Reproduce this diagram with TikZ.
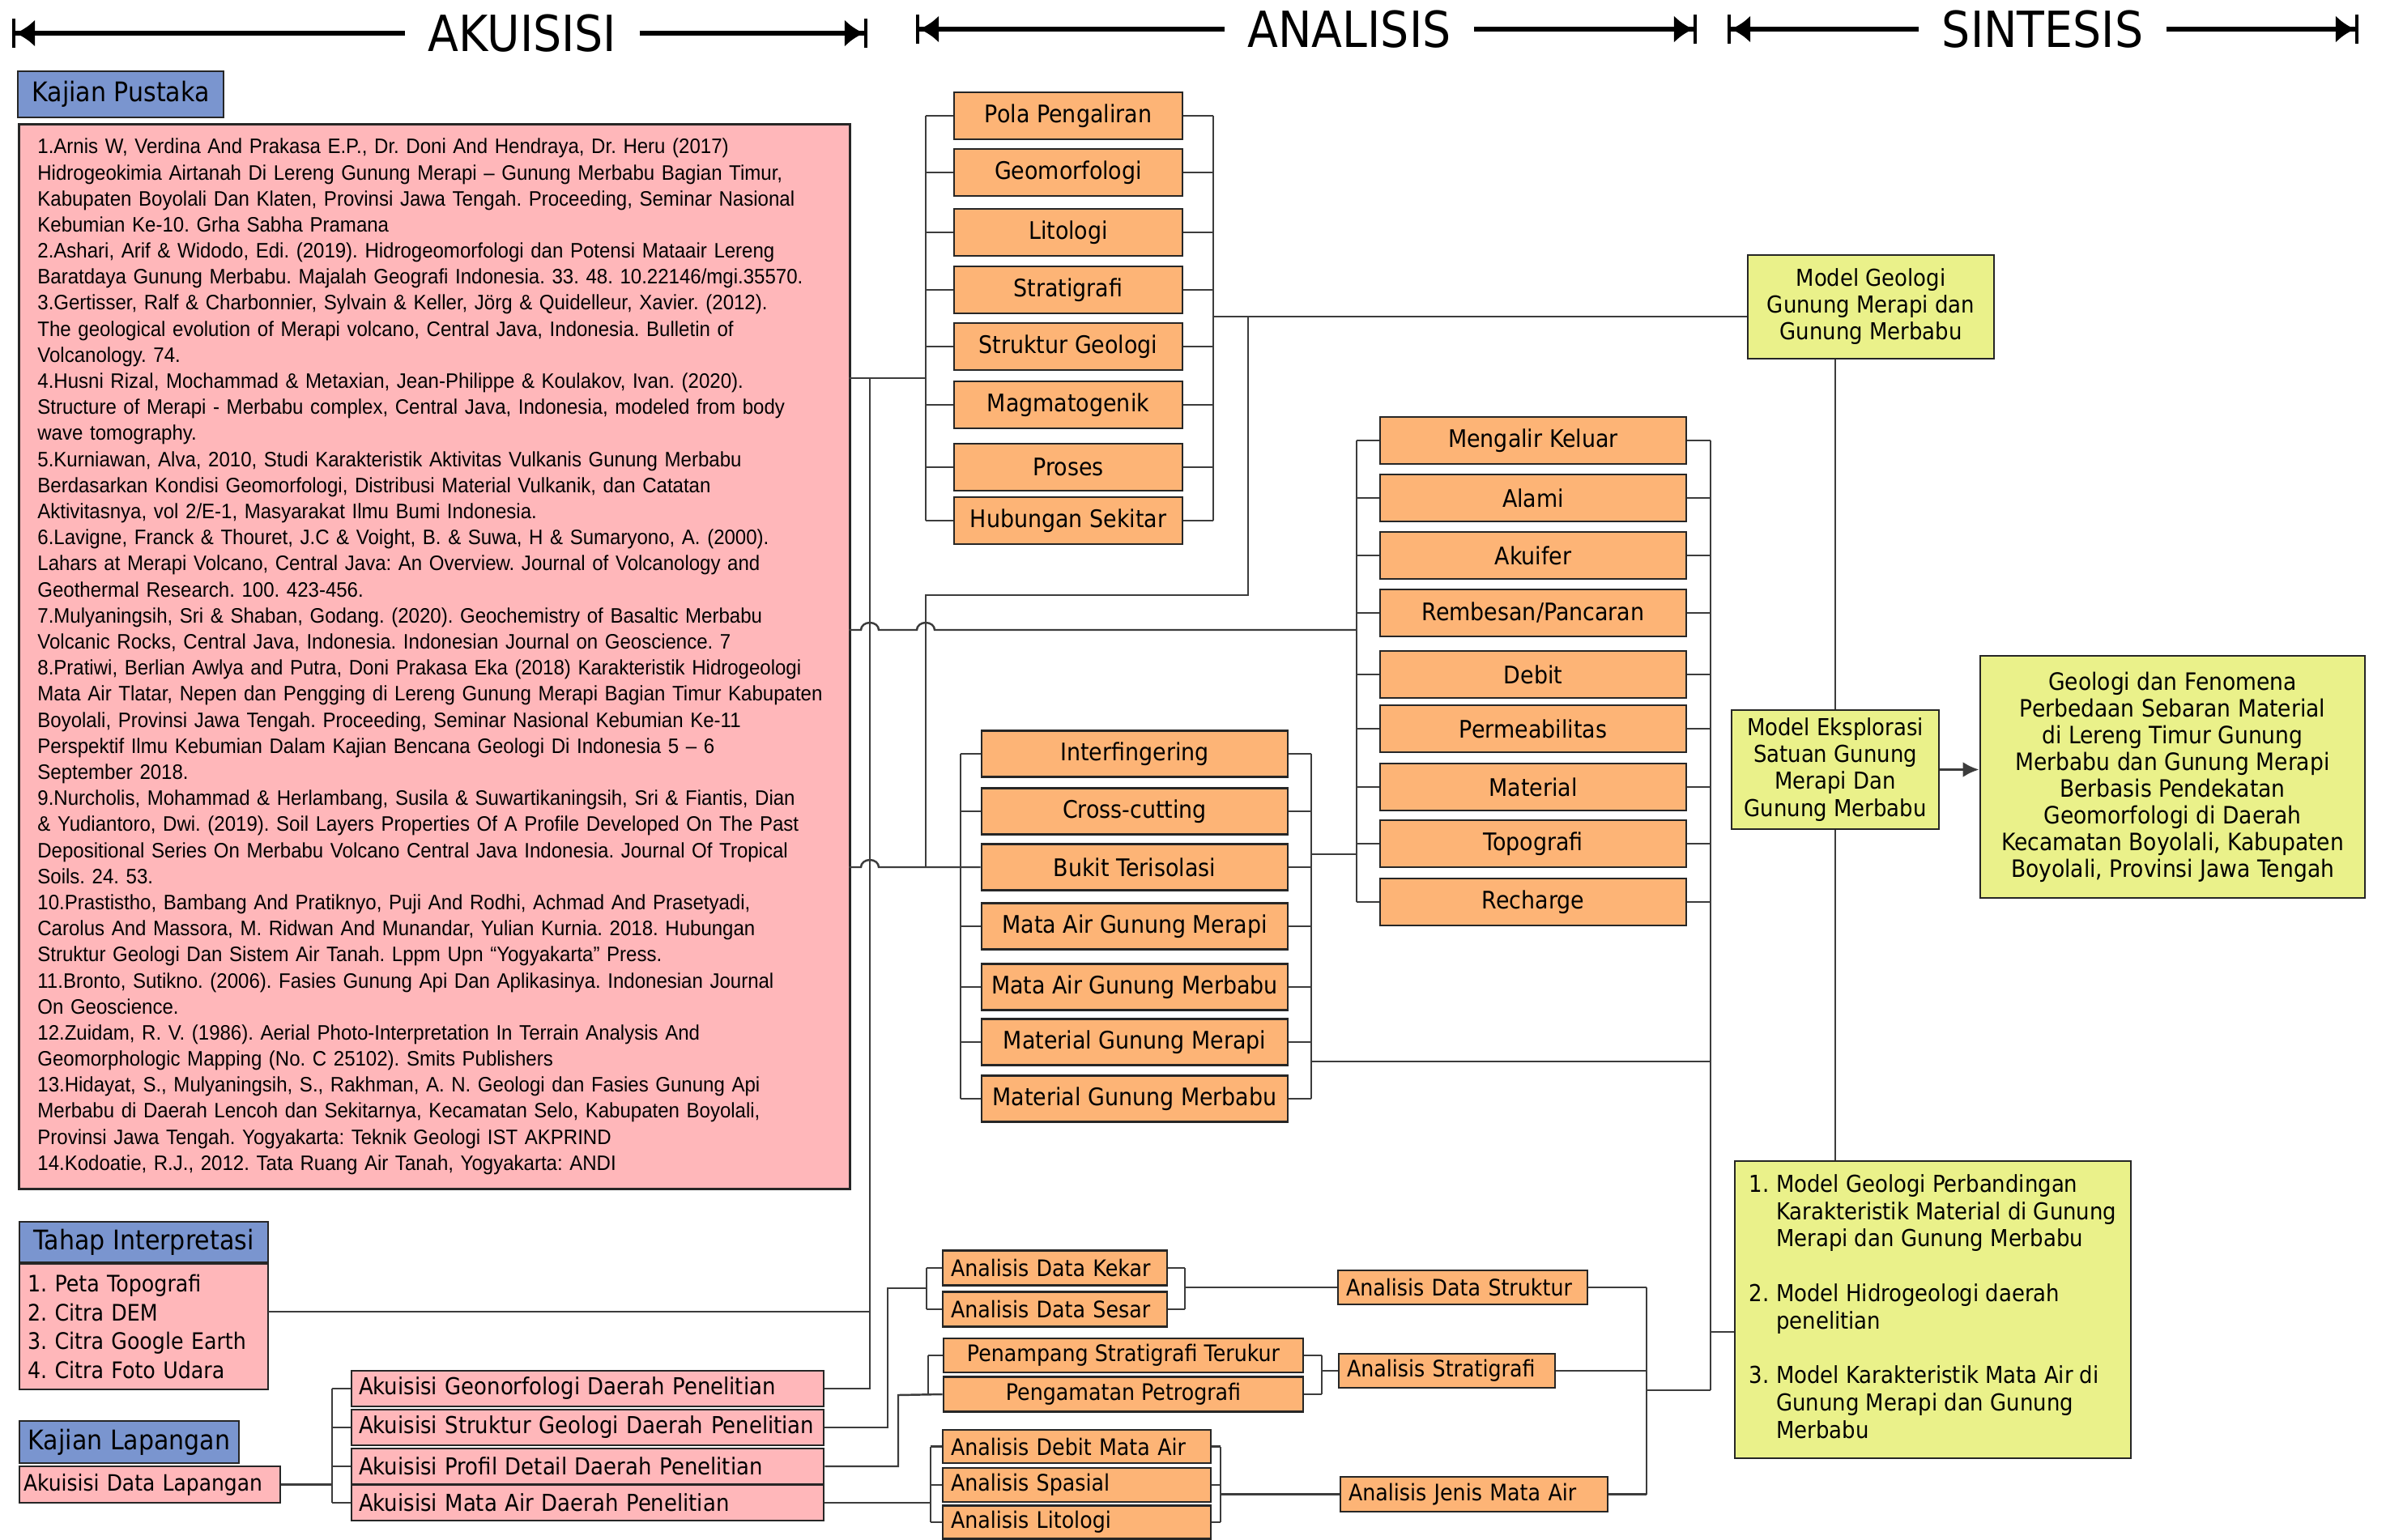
\documentclass[tikz,border=0pt]{standalone}
\usepackage{fontspec}
\newfontfamily\boxfont{DejaVu Sans}[FakeStretch=0.9]
\newfontfamily\reffont{Liberation Sans}[FakeStretch=0.93]
\usetikzlibrary{arrows.meta}

\definecolor{oranye}{RGB}{253,180,118}
\definecolor{merahmuda}{RGB}{255,183,186}
\definecolor{biru}{RGB}{122,149,207}
\definecolor{kuning}{RGB}{234,241,138}
\definecolor{garis}{RGB}{60,60,60}

\begin{document}
\frenchspacing
\begin{tikzpicture}[x=1cm, y=-1cm,
  conn/.style={draw=garis, line width=0.7pt},
  hdr/.style={line width=1.8pt, -{Latex[length=2.4mm,width=3.4mm]Bar[width=3.6mm,line width=1.2pt]}},
  hdrtxt/.style={font=\boxfont\fontsize{17.5}{20}\selectfont, inner xsep=0.28cm},
  kotak/.style={draw=black!85, line width=0.8pt, inner sep=0pt},
  analisis/.style={kotak, fill=oranye, font=\boxfont\fontsize{8.5}{10}\selectfont},
  kecil/.style={kotak, fill=oranye, font=\boxfont\fontsize{8}{9.6}\selectfont},
  kecilkiri/.style={kecil, align=left, inner xsep=0.1cm},
  judul/.style={kotak, fill=biru, font=\boxfont\fontsize{9.5}{11}\selectfont},
  isi/.style={kotak, fill=merahmuda, align=left},
  model/.style={kotak, fill=kuning, align=center, font=\boxfont\fontsize{8.2}{9.4}\selectfont}
]
  \path[use as bounding box] (0,0) rectangle (29.46,19.02);

  % Header
  \node[hdrtxt] (akT) at (6.45,0.41) {AKUISISI};
  \coordinate (akL) at (0.15,0.41);
  \coordinate (akR) at (10.71,0.41);
  \draw[hdr] (akT.west) -- (akL);
  \draw[hdr] (akT.east) -- (akR);
  \node[hdrtxt] (anT) at (16.66,0.36) {ANALISIS};
  \coordinate (anL) at (11.31,0.36);
  \coordinate (anR) at (20.95,0.36);
  \draw[hdr] (anT.west) -- (anL);
  \draw[hdr] (anT.east) -- (anR);
  \node[hdrtxt] (siT) at (25.22,0.36) {SINTESIS};
  \coordinate (siL) at (21.33,0.36);
  \coordinate (siR) at (29.12,0.36);
  \draw[hdr] (siT.west) -- (siL);
  \draw[hdr] (siT.east) -- (siR);

  % Kajian pustaka
  \node[judul, minimum width=2.54cm, minimum height=0.57cm] (kp) at (1.49,1.165) {Kajian Pustaka};
  \node[isi, anchor=north west, text width=9.8cm, inner xsep=0.23cm, minimum height=13.15cm,
    font=\reffont\fontsize{7.35}{9.16}\selectfont] (pustaka) at (0.22,1.52) {%
1.Arnis W, Verdina And Prakasa E.P., Dr. Doni And Hendraya, Dr. Heru (2017)\\
Hidrogeokimia Airtanah Di Lereng Gunung Merapi – Gunung Merbabu Bagian Timur,\\
Kabupaten Boyolali Dan Klaten, Provinsi Jawa Tengah. Proceeding, Seminar Nasional\\
Kebumian Ke-10. Grha Sabha Pramana\\
2.Ashari, Arif \& Widodo, Edi. (2019). Hidrogeomorfologi dan Potensi Mataair Lereng\\
Baratdaya Gunung Merbabu. Majalah Geografi Indonesia. 33. 48. 10.22146/mgi.35570.\\
3.Gertisser, Ralf \& Charbonnier, Sylvain \& Keller, Jörg \& Quidelleur, Xavier. (2012).\\
The geological evolution of Merapi volcano, Central Java, Indonesia. Bulletin of\\
Volcanology. 74.\\
4.Husni Rizal, Mochammad \& Metaxian, Jean-Philippe \& Koulakov, Ivan. (2020).\\
Structure of Merapi - Merbabu complex, Central Java, Indonesia, modeled from body\\
wave tomography.\\
5.Kurniawan, Alva, 2010, Studi Karakteristik Aktivitas Vulkanis Gunung Merbabu\\
Berdasarkan Kondisi Geomorfologi, Distribusi Material Vulkanik, dan Catatan\\
Aktivitasnya, vol 2/E-1, Masyarakat Ilmu Bumi Indonesia.\\
6.Lavigne, Franck \& Thouret, J.C \& Voight, B. \& Suwa, H \& Sumaryono, A. (2000).\\
Lahars at Merapi Volcano, Central Java: An Overview. Journal of Volcanology and\\
Geothermal Research. 100. 423-456.\\
7.Mulyaningsih, Sri \& Shaban, Godang. (2020). Geochemistry of Basaltic Merbabu\\
Volcanic Rocks, Central Java, Indonesia. Indonesian Journal on Geoscience. 7\\
8.Pratiwi, Berlian Awlya and Putra, Doni Prakasa Eka (2018) Karakteristik Hidrogeologi\\
Mata Air Tlatar, Nepen dan Pengging di Lereng Gunung Merapi Bagian Timur Kabupaten\\
Boyolali, Provinsi Jawa Tengah. Proceeding, Seminar Nasional Kebumian Ke-11\\
Perspektif Ilmu Kebumian Dalam Kajian Bencana Geologi Di Indonesia 5 – 6\\
September 2018.\\
9.Nurcholis, Mohammad \& Herlambang, Susila \& Suwartikaningsih, Sri \& Fiantis, Dian\\
\& Yudiantoro, Dwi. (2019). Soil Layers Properties Of A Profile Developed On The Past\\
Depositional Series On Merbabu Volcano Central Java Indonesia. Journal Of Tropical\\
Soils. 24. 53.\\
10.Prastistho, Bambang And Pratiknyo, Puji And Rodhi, Achmad And Prasetyadi,\\
Carolus And Massora, M. Ridwan And Munandar, Yulian Kurnia. 2018. Hubungan\\
Struktur Geologi Dan Sistem Air Tanah. Lppm Upn “Yogyakarta” Press.\\
11.Bronto, Sutikno. (2006). Fasies Gunung Api Dan Aplikasinya. Indonesian Journal\\
On Geoscience.\\
12.Zuidam, R. V. (1986). Aerial Photo-Interpretation In Terrain Analysis And\\
Geomorphologic Mapping (No. C 25102). Smits Publishers\\
13.Hidayat, S., Mulyaningsih, S., Rakhman, A. N. Geologi dan Fasies Gunung Api\\
Merbabu di Daerah Lencoh dan Sekitarnya, Kecamatan Selo, Kabupaten Boyolali,\\
Provinsi Jawa Tengah. Yogyakarta: Teknik Geologi IST AKPRIND\\
14.Kodoatie, R.J., 2012. Tata Ruang Air Tanah, Yogyakarta: ANDI};

  % Tahap interpretasi dan kajian lapangan
  \node[judul, minimum width=3.07cm, minimum height=0.50cm] (tahap) at (1.775,15.34) {Tahap Interpretasi};
  \node[isi, text width=2.87cm, inner xsep=0.1cm, minimum height=1.55cm,
    font=\boxfont\fontsize{8}{10.1}\selectfont] (citra) at (1.775,16.385)
    {1. Peta Topografi\\2. Citra DEM\\3. Citra Google Earth\\4. Citra Foto Udara};
  \node[judul, minimum width=2.71cm, minimum height=0.52cm] (klap) at (1.595,17.81) {Kajian Lapangan};
  \node[isi, text width=3.12cm, inner xsep=0.05cm, minimum height=0.45cm,
    font=\boxfont\fontsize{7.9}{10}\selectfont] (adl) at (1.85,18.335) {Akuisisi Data Lapangan};
  \node[isi, text width=5.65cm, inner xsep=0.09cm, minimum height=0.44cm,
    font=\boxfont\fontsize{8.2}{10}\selectfont] (geomor) at (7.255,17.15) {Akuisisi Geonorfologi Daerah Penelitian};
  \node[isi, text width=5.65cm, inner xsep=0.09cm, minimum height=0.44cm,
    font=\boxfont\fontsize{8.2}{10}\selectfont] (strukg) at (7.255,17.63) {Akuisisi Struktur Geologi Daerah Penelitian};
  \node[isi, text width=5.65cm, inner xsep=0.09cm, minimum height=0.44cm,
    font=\boxfont\fontsize{8.2}{10}\selectfont] (profil) at (7.255,18.11) {Akuisisi Profil Detail Daerah Penelitian};
  \node[isi, text width=5.65cm, inner xsep=0.09cm, minimum height=0.44cm,
    font=\boxfont\fontsize{8.2}{10}\selectfont] (mataair) at (7.255,18.56) {Akuisisi Mata Air Daerah Penelitian};

  % Analisis, kelompok atas
  \node[analisis, minimum width=2.82cm, minimum height=0.58cm] (pola) at (13.19,1.43) {Pola Pengaliran};
  \node[analisis, minimum width=2.82cm, minimum height=0.58cm] (geomorf) at (13.19,2.13) {Geomorfologi};
  \node[analisis, minimum width=2.82cm, minimum height=0.58cm] (lito) at (13.19,2.87) {Litologi};
  \node[analisis, minimum width=2.82cm, minimum height=0.58cm] (strati) at (13.19,3.58) {Stratigrafi};
  \node[analisis, minimum width=2.82cm, minimum height=0.58cm] (struk) at (13.19,4.28) {Struktur Geologi};
  \node[analisis, minimum width=2.82cm, minimum height=0.58cm] (magma) at (13.19,5.00) {Magmatogenik};
  \node[analisis, minimum width=2.82cm, minimum height=0.58cm] (proses) at (13.19,5.77) {Proses};
  \node[analisis, minimum width=2.82cm, minimum height=0.58cm] (hub) at (13.19,6.43) {Hubungan Sekitar};

  % Analisis, kelompok tengah
  \node[analisis, minimum width=3.78cm, minimum height=0.57cm] (inter) at (14.01,9.31) {Interfingering};
  \node[analisis, minimum width=3.78cm, minimum height=0.57cm] (cross) at (14.01,10.02) {Cross-cutting};
  \node[analisis, minimum width=3.78cm, minimum height=0.57cm] (bukit) at (14.01,10.71) {Bukit Terisolasi};
  \node[analisis, minimum width=3.78cm, minimum height=0.57cm] (mamerapi) at (14.01,11.44) {Mata Air Gunung Merapi};
  \node[analisis, minimum width=3.78cm, minimum height=0.57cm] (mamerbabu) at (14.01,12.19) {Mata Air Gunung Merbabu};
  \node[analisis, minimum width=3.78cm, minimum height=0.57cm] (matmerapi) at (14.01,12.87) {Material Gunung Merapi};
  \node[analisis, minimum width=3.78cm, minimum height=0.57cm] (matmerbabu) at (14.01,13.57) {Material Gunung Merbabu};

  % Analisis, kelompok kanan
  \node[analisis, minimum width=3.78cm, minimum height=0.58cm] (keluar) at (18.93,5.44) {Mengalir Keluar};
  \node[analisis, minimum width=3.78cm, minimum height=0.58cm] (alami) at (18.93,6.15) {Alami};
  \node[analisis, minimum width=3.78cm, minimum height=0.58cm] (akuifer) at (18.93,6.86) {Akuifer};
  \node[analisis, minimum width=3.78cm, minimum height=0.58cm] (rembes) at (18.93,7.57) {Rembesan/Pancaran};
  \node[analisis, minimum width=3.78cm, minimum height=0.58cm] (debit) at (18.93,8.33) {Debit};
  \node[analisis, minimum width=3.78cm, minimum height=0.58cm] (permea) at (18.93,9.00) {Permeabilitas};
  \node[analisis, minimum width=3.78cm, minimum height=0.58cm] (material) at (18.93,9.72) {Material};
  \node[analisis, minimum width=3.78cm, minimum height=0.58cm] (topo) at (18.93,10.42) {Topografi};
  \node[analisis, minimum width=3.78cm, minimum height=0.58cm] (recharge) at (18.93,11.14) {Recharge};

  % Analisis, kelompok bawah
  \node[kecilkiri, text width=2.57cm, minimum height=0.43cm] (kekar) at (13.025,15.66) {Analisis Data Kekar};
  \node[kecilkiri, text width=2.57cm, minimum height=0.43cm] (sesar) at (13.025,16.17) {Analisis Data Sesar};
  \node[kecil, minimum width=4.44cm, minimum height=0.42cm] (penampang) at (13.87,16.74) {Penampang Stratigrafi Terukur};
  \node[kecil, minimum width=4.44cm, minimum height=0.43cm] (petro) at (13.87,17.22) {Pengamatan Petrografi};
  \node[kecilkiri, text width=3.11cm, minimum height=0.41cm] (adebit) at (13.295,17.865) {Analisis Debit Mata Air};
  \node[kecilkiri, text width=3.11cm, minimum height=0.42cm] (spasial) at (13.295,18.34) {Analisis Spasial};
  \node[kecilkiri, text width=3.11cm, minimum height=0.41cm] (alito) at (13.295,18.80) {Analisis Litologi};
  \node[kecilkiri, text width=2.88cm, minimum height=0.42cm] (dstruk) at (18.06,15.90) {Analisis Data Struktur};
  \node[kecilkiri, text width=2.47cm, minimum height=0.42cm] (astrati) at (17.865,16.93) {Analisis Stratigrafi};
  \node[kecilkiri, text width=3.10cm, minimum height=0.43cm] (jenis) at (18.20,18.455) {Analisis Jenis Mata Air};

  % Sintesis
  \node[model, minimum width=3.04cm, minimum height=1.28cm] (mgeo) at (23.10,3.79)
    {Model Geologi\\Gunung Merapi dan\\Gunung Merbabu};
  \node[model, minimum width=2.56cm, minimum height=1.47cm] (meks) at (22.66,9.505)
    {Model Eksplorasi\\Satuan Gunung\\Merapi Dan\\Gunung Merbabu};
  \node[model, minimum width=4.75cm, minimum height=2.99cm, font=\boxfont\fontsize{8.4}{9.4}\selectfont] (akhir) at (26.825,9.595)
    {Geologi dan Fenomena\\Perbedaan Sebaran Material\\di Lereng Timur Gunung\\Merbabu dan Gunung Merapi\\Berbasis Pendekatan\\Geomorfologi di Daerah\\Kecamatan Boyolali, Kabupaten\\Boyolali, Provinsi Jawa Tengah};
  \node[model, minimum width=4.89cm, minimum height=3.67cm, font=\boxfont\fontsize{8.2}{9.6}\selectfont] (hasil) at (23.865,16.175)
    {\begin{tabular}{@{}l@{\hspace{0.3em}}l@{}}
    1. & Model Geologi Perbandingan\\
       & Karakteristik Material di Gunung\\
       & Merapi dan Gunung Merbabu\\[9.6pt]
    2. & Model Hidrogeologi daerah\\
       & penelitian\\[9.6pt]
    3. & Model Karakteristik Mata Air di\\
       & Gunung Merapi dan Gunung\\
       & Merbabu
    \end{tabular}};

  % Titik bantu garis
  \coordinate (kiriA) at (11.43,0);
  \coordinate (kananA) at (14.98,0);
  \coordinate (kiriB) at (11.86,0);
  \coordinate (kananB) at (16.19,0);
  \coordinate (kiriC) at (16.75,0);
  \coordinate (kananC) at (21.12,0);
  \coordinate (kiriD) at (4.10,0);
  \coordinate (kiriE) at (11.44,0);
  \coordinate (kananE) at (14.63,0);
  \coordinate (kiriF) at (11.46,0);
  \coordinate (kananF) at (16.32,0);
  \coordinate (kiriG) at (11.49,0);
  \coordinate (kananG) at (15.07,0);
  \coordinate (kananH) at (20.33,0);
  \coordinate (pA) at (10.48,4.67);
  \coordinate (simpulA) at (10.74,4.67);
  \coordinate (pB) at (10.48,7.78);
  \coordinate (pC) at (10.48,10.71);
  \coordinate (pT) at (3.31,16.20);
  \coordinate (oA) at (14.98,3.91);
  \coordinate (turunA) at (15.41,3.91);
  \coordinate (sambungB) at (11.43,10.71);
  \coordinate (pD) at (16.19,10.55);
  \coordinate (pE) at (16.19,13.11);
  \coordinate (pH) at (21.12,16.45);
  \coordinate (pK) at (20.33,17.17);
  \coordinate (belokE) at (10.96,15.91);
  \coordinate (belokF) at (11.09,17.23);

  % Kurung kelompok atas
  \draw[conn] (pola.west) -- (pola.west -| kiriA) (geomorf.west) -- (geomorf.west -| kiriA)
    (lito.west) -- (lito.west -| kiriA) (strati.west) -- (strati.west -| kiriA)
    (struk.west) -- (struk.west -| kiriA) (magma.west) -- (magma.west -| kiriA)
    (proses.west) -- (proses.west -| kiriA) (hub.west) -- (hub.west -| kiriA);
  \draw[conn] (pola.east) -- (pola.east -| kananA) (geomorf.east) -- (geomorf.east -| kananA)
    (lito.east) -- (lito.east -| kananA) (strati.east) -- (strati.east -| kananA)
    (struk.east) -- (struk.east -| kananA) (magma.east) -- (magma.east -| kananA)
    (proses.east) -- (proses.east -| kananA) (hub.east) -- (hub.east -| kananA);
  \draw[conn] (pola.west -| kiriA) -- (hub.west -| kiriA);
  \draw[conn] (pola.east -| kananA) -- (hub.east -| kananA);

  % Kurung kelompok tengah
  \draw[conn] (inter.west) -- (inter.west -| kiriB) (cross.west) -- (cross.west -| kiriB)
    (mamerapi.west) -- (mamerapi.west -| kiriB) (mamerbabu.west) -- (mamerbabu.west -| kiriB)
    (matmerapi.west) -- (matmerapi.west -| kiriB) (matmerbabu.west) -- (matmerbabu.west -| kiriB);
  \draw[conn] (inter.east) -- (inter.east -| kananB) (cross.east) -- (cross.east -| kananB)
    (bukit.east) -- (bukit.east -| kananB)
    (mamerapi.east) -- (mamerapi.east -| kananB) (mamerbabu.east) -- (mamerbabu.east -| kananB)
    (matmerapi.east) -- (matmerapi.east -| kananB) (matmerbabu.east) -- (matmerbabu.east -| kananB);
  \draw[conn] (inter.west -| kiriB) -- (matmerbabu.west -| kiriB);
  \draw[conn] (inter.east -| kananB) -- (matmerbabu.east -| kananB);

  % Kurung kelompok kanan
  \draw[conn] (keluar.west) -- (keluar.west -| kiriC) (alami.west) -- (alami.west -| kiriC)
    (akuifer.west) -- (akuifer.west -| kiriC) (rembes.west) -- (rembes.west -| kiriC)
    (debit.west) -- (debit.west -| kiriC) (permea.west) -- (permea.west -| kiriC)
    (material.west) -- (material.west -| kiriC) (topo.west) -- (topo.west -| kiriC)
    (recharge.west) -- (recharge.west -| kiriC);
  \draw[conn] (keluar.east) -- (keluar.east -| kananC) (alami.east) -- (alami.east -| kananC)
    (akuifer.east) -- (akuifer.east -| kananC) (rembes.east) -- (rembes.east -| kananC)
    (debit.east) -- (debit.east -| kananC) (permea.east) -- (permea.east -| kananC)
    (material.east) -- (material.east -| kananC) (topo.east) -- (topo.east -| kananC)
    (recharge.east) -- (recharge.east -| kananC);
  \draw[conn] (keluar.west -| kiriC) -- (recharge.west -| kiriC);
  \draw[conn] (keluar.east -| kananC) -- (pK -| kananC);

  % Masukan dari kajian pustaka, interpretasi dan lapangan
  \draw[conn] (pA) -- (pA -| kiriA);
  \draw[conn] (geomor.east) -| (simpulA);
  \draw[conn] (pT) -- (pT -| simpulA);
  \draw[conn] (pB) -- (10.63,7.78) arc[start angle=180, end angle=0, x radius=1.1mm, y radius=0.9mm]
    -- (11.32,7.78) arc[start angle=180, end angle=0, x radius=1.1mm, y radius=0.9mm] -- (pB -| kiriC);
  \draw[conn] (pC) -- (10.63,10.71) arc[start angle=180, end angle=0, x radius=1.1mm, y radius=0.9mm]
    -- (bukit.west);

  % Keluaran kelompok atas dan tengah
  \draw[conn] (oA) -- (oA -| mgeo.west);
  \draw[conn] (turunA) -- ++(0,3.44) -| (sambungB);
  \draw[conn] (pD) -- (pD -| kiriC);
  \draw[conn] (pE) -- (pE -| kananC);
  \draw[conn] (pH) -- (pH -| hasil.west);

  % Kelompok bawah
  \draw[conn] (adl.east) -- (adl.east -| kiriD);
  \draw[conn] (geomor.west) -- (geomor.west -| kiriD) (strukg.west) -- (strukg.west -| kiriD)
    (profil.west) -- (profil.west -| kiriD) (mataair.west) -- (mataair.west -| kiriD);
  \draw[conn] (geomor.west -| kiriD) -- (mataair.west -| kiriD);
  \draw[conn] (strukg.east) -| (belokE) -- (belokE -| kiriE);
  \draw[conn] (kekar.west) -- (kekar.west -| kiriE) (sesar.west) -- (sesar.west -| kiriE);
  \draw[conn] (kekar.west -| kiriE) -- (sesar.west -| kiriE);
  \draw[conn] (kekar.east) -- (kekar.east -| kananE) (sesar.east) -- (sesar.east -| kananE);
  \draw[conn] (kekar.east -| kananE) -- (sesar.east -| kananE);
  \draw[conn] (dstruk.west) -- (dstruk.west -| kananE);
  \draw[conn] (profil.east) -| (belokF) -- (petro.west);
  \draw[conn] (penampang.west) -- (penampang.west -| kiriF);
  \draw[conn] (penampang.west -| kiriF) -- (petro.west -| kiriF);
  \draw[conn] (penampang.east) -- (penampang.east -| kananF) (petro.east) -- (petro.east -| kananF);
  \draw[conn] (penampang.east -| kananF) -- (petro.east -| kananF);
  \draw[conn] (astrati.west) -- (astrati.west -| kananF);
  \draw[conn] (mataair.east) -- (mataair.east -| kiriG);
  \draw[conn] (adebit.west) -- (adebit.west -| kiriG) (spasial.west) -- (spasial.west -| kiriG)
    (alito.west) -- (alito.west -| kiriG);
  \draw[conn] (adebit.west -| kiriG) -- (alito.west -| kiriG);
  \draw[conn] (adebit.east) -- (adebit.east -| kananG) (spasial.east) -- (spasial.east -| kananG)
    (alito.east) -- (alito.east -| kananG);
  \draw[conn] (adebit.east -| kananG) -- (alito.east -| kananG);
  \draw[conn] (jenis.west) -- (jenis.west -| kananG);
  \draw[conn] (dstruk.east) -- (dstruk.east -| kananH) (astrati.east) -- (astrati.east -| kananH)
    (jenis.east) -- (jenis.east -| kananH);
  \draw[conn] (dstruk.east -| kananH) -- (jenis.east -| kananH);
  \draw[conn] (pK) -- (pK -| kananC);

  % Sintesis
  \draw[conn] (meks.north) -- (meks.north |- mgeo.south);
  \draw[conn] (meks.south) -- (meks.south |- hasil.north);
  \draw[conn, line width=1pt, -{Latex[length=2mm,width=1.9mm]}] (meks.east) -- (meks.east -| akhir.west);

\end{tikzpicture}
\end{document}
